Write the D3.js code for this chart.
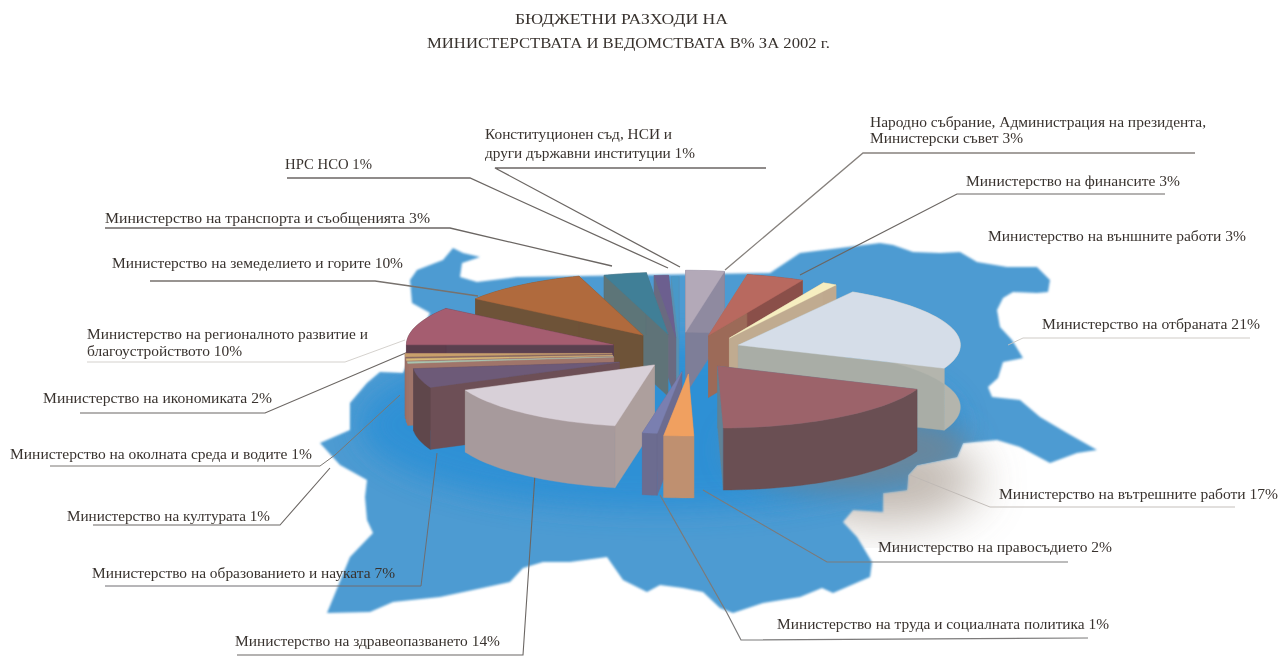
<!DOCTYPE html>
<html>
<head>
<meta charset="utf-8">
<script src="https://cdnjs.cloudflare.com/ajax/libs/d3/7.8.5/d3.min.js"></script>
<style>
  html, body { margin: 0; background: #fff; }
  svg { display: block; }
  text { font-family: "Liberation Serif", serif; fill: #38322e; }
</style>
</head>
<body>
<svg id="chart" width="1279" height="656"></svg>
<script>
// budget shares, clockwise from the top of the pie
const ministries = [
  "Народно събрание", "Финанси", "Външни работи", "Отбрана", "Вътрешни работи",
  "Правосъдие", "Труд", "Здравеопазване", "Образование", "Култура",
  "Околна среда", "Икономика", "Регионално развитие", "Земеделие", "Транспорт",
  "НРС", "Конституционен съд"
];
const shares = [3, 3, 3, 21, 17, 2, 1, 14, 7, 1, 1, 2, 10, 10, 3, 1, 1];

const titleLines = ["БЮДЖЕТНИ РАЗХОДИ НА", "МИНИСТЕРСТВАТА И ВЕДОМСТВАТА В% ЗА 2002 г."];

const labelTexts = [
  "Конституционен съд, НСИ и",
  "други държавни институции 1%",
  "НРС НСО 1%",
  "Министерство на транспорта и съобщенията  3%",
  "Министерство на земеделието и горите 10%",
  "Министерство на регионалното развитие и",
  "благоустройството 10%",
  "Министерство на икономиката 2%",
  "Министерство на околната среда и водите 1%",
  "Министерство на културата 1%",
  "Министерство на образованието и науката 7%",
  "Министерство на здравеопазването 14%",
  "Министерство на труда и социалната политика 1%",
  "Министерство на правосъдието 2%",
  "Министерство на вътрешните работи 17%",
  "Министерство на отбраната 21%",
  "Министерство на външните работи 3%",
  "Министерство на финансите 3%",
  "Народно събрание, Администрация на президента,",
  "Министерски съвет 3%"
];

// layout: [x, baseline, width] for each label above
const labelBoxes = [
  [485, 139, 187], [485, 158, 210], [285, 169, 87], [105, 223, 325], [112, 268, 291],
  [87, 339, 281], [87, 356, 155], [43, 403, 229], [10, 459, 302], [67, 521, 203],
  [92, 578, 303], [235, 646, 265], [777, 629, 332], [878, 552, 234], [999, 499, 279],
  [1042, 329, 218], [988, 241, 258], [966, 186, 214], [870, 127, 336], [870, 143, 153]
];

// layout: leader lines, [path, stroke, width]
const leaders = [
  [[[766, 168], [495, 168], [680, 267]], "#6b6663", 1.3],
  [[[287, 178], [470, 178], [668, 268]], "#6b6663", 1.3],
  [[[105, 228], [450, 228], [612, 266]], "#6b6663", 1.3],
  [[[150, 281], [375, 281], [410, 286], [478, 296]], "#77726e", 1.3],
  [[[87, 362], [345, 362], [405, 340]], "#c9c5c0", 0.8],
  [[[80, 413], [265, 413], [408, 352]], "#6b6663", 1.1],
  [[[50, 466], [320, 466], [335, 455], [400, 395]], "#7a7672", 1],
  [[[93, 525], [280, 525], [330, 468]], "#6b6663", 1.1],
  [[[105, 586], [421, 586], [437, 453]], "#6f6d70", 1],
  [[[237, 655], [523, 655], [535, 474]], "#6b6663", 1.1],
  [[[1088, 638], [741, 640], [727, 613], [660, 495]], "#7b7a7a", 1.2],
  [[[1068, 562], [827, 562], [703, 490]], "#7b7a7a", 1.1],
  [[[1235, 507], [990, 507], [910, 475]], "#bdb8b3", 0.9],
  [[[1250, 338], [1023, 338], [1008, 345]], "#c9c5c0", 0.9],
  [[[1218, 255], [975, 255]], "#d0ccc8", 0.9],
  [[[1165, 194], [957, 194], [800, 275]], "#6b6663", 1.2],
  [[[1195, 153], [863, 153], [725, 270]], "#86817d", 1.3]
];

// backdrop: outline of the country
const mapOutline = [
  [517, 277], [770, 273], [800, 253], [848, 247], [880, 243], [893, 245], [913, 252], [940, 253], [960, 252],
  [977, 262], [1007, 267], [1037, 267], [1050, 280], [1048, 292], [1037, 293], [1013, 292], [1003, 298],
  [997, 310], [1000, 327], [1012, 340], [1023, 358], [1003, 362], [998, 378], [988, 387], [992, 397],
  [1020, 400], [1040, 417], [1067, 433], [1097, 450], [1077, 453], [1050, 463], [1020, 447], [997, 440],
  [963, 443], [957, 457], [917, 465], [908, 475], [907, 490], [883, 493], [883, 512], [853, 510], [843, 522],
  [857, 537], [872, 562], [870, 577], [833, 593], [822, 588], [800, 597], [763, 603], [733, 613], [720, 608],
  [703, 592], [683, 588], [660, 585], [647, 592], [623, 580], [607, 557], [570, 562], [543, 562], [523, 568],
  [510, 582], [473, 590], [440, 597], [393, 602], [370, 612], [327, 613], [350, 557], [373, 533], [367, 520],
  [365, 497], [367, 480], [340, 465], [320, 443], [350, 430], [350, 403], [367, 383], [380, 372], [403, 373],
  [430, 313], [412, 303], [410, 280], [417, 270], [443, 260], [453, 248], [463, 253], [480, 257], [462, 263],
  [460, 277], [477, 282]
];

// style per slice, same order as shares
const topColors = ["#b3a9b8", "#b8695f", "#f6eec0", "#d5dde8", "#9c636b", "#f0a060", "#7a7fb0", "#d8d0d8",
  "#6d5a78", "#a9c4b0", "#d9bb78", "#c9a06c", "#a55d70", "#b06a3c", "#3f7f97", "#6c5f8f", "#4a98c8"];
const rimColors = ["#8f8aa0", "#8a4f4a", "#bfa98e", "#b4b5ad", "#6b4f52", "#bf9070", "#6c6c90", "#a79a9c",
  "#5f474c", "#a0756a", "#a0756a", "#a0756a", "#5a3c4c", "#6e5238", "#5d7478", "#6b6b80", "#5a90b0"];
const wallColors = ["#7e7e98", "#9c6a58", "#c0ab90", "#a9ada6", "#5f8296", "#bf9070", "#6c6c90", "#ad9f9d",
  "#6d5056", "#a0756a", "#a0756a", "#8a6a62", "#5a4050", "#6e5238", "#5f7378", "#6b6b80", "#5a90b0"];
// how far each slice is pulled out of the pie, and small hand corrections on top
const explode = [60, 52, 78, 62, 57, 67, 60, 60, 68, 68, 68, 68, 70, 63, 55, 45, 40];
const nudgeX = [0, 14, 14, 0, 0, 0, 0, 0, 0, 0, 0, 0, 0, 0, 0, 0, 0];
const nudgeY = [0, 0, 9, 0, 0, 0, 0, -5, 0, 0, 0, 0, 0, 0, 0, 0, 0];
const radii = [207, 207, 207, 222, 215, 207, 207, 207, 207, 207, 207, 207, 207, 207, 207, 207, 207];

const cx = 680, cy = 352, ry = 62, depth = 62, tilt = 0.33;
const rad = Math.PI / 180;

const svg = d3.select("#chart");
const defs = svg.append("defs");
[["soft", 0.55], ["edge", 1.1], ["wide", 14], ["wider", 24]].forEach(([id, s]) => {
  defs.append("filter").attr("id", id)
    .attr("x", "-30%").attr("y", "-30%").attr("width", "160%").attr("height", "160%")
    .append("feGaussianBlur").attr("stdDeviation", s);
});

// the illustration squeezes the angles around the near side, same for the top right
const warp = d3.scaleLinear()
  .domain([0, 10.8, 21.6, 32.4, 108, 169.2, 180, 230.4, 255.6, 270, 342, 352.8, 356.4, 360])
  .range([0, 10.8, 27, 31, 112, 178.5, 191, 246, 264, 270, 342, 354, 358, 360]);

const pie = d3.pie().sort(null)
  .startAngle(0).endAngle(2 * Math.PI)
  .value(d => d);

const outline = d3.line();

// soft shadow off the map, lower right
svg.append("ellipse")
  .attr("cx", 885).attr("cy", 480).attr("rx", 95).attr("ry", 42)
  .attr("fill", "#b5aba2").attr("opacity", 0.85).attr("filter", "url(#wider)");

defs.append("clipPath").attr("id", "mapClip")
  .append("path").attr("d", outline(mapOutline) + "Z");

svg.append("path")
  .attr("d", outline(mapOutline) + "Z")
  .attr("fill", "#4e9bd2")
  .attr("filter", "url(#edge)");

const mapShade = svg.append("g").attr("clip-path", "url(#mapClip)");
mapShade.append("ellipse")
  .attr("cx", 660).attr("cy", 425).attr("rx", 300).attr("ry", 85)
  .attr("fill", "#2a8fd6").attr("opacity", 0.85).attr("filter", "url(#wide)");
mapShade.append("ellipse")
  .attr("cx", 850).attr("cy", 450).attr("rx", 120).attr("ry", 42)
  .attr("fill", "#66879f").attr("filter", "url(#wide)");

// leaders sit under the pie
svg.append("g").selectAll("path")
  .data(leaders)
  .join("path")
  .attr("d", d => outline(d[0]))
  .attr("fill", "none")
  .attr("stroke", d => d[1])
  .attr("stroke-width", d => d[2])
  .attr("filter", "url(#soft)");

const slices = pie(shares).map((d, i) => {
  const a0 = warp(d.startAngle / rad) * rad;
  const a1 = warp(d.endAngle / rad) * rad;
  const mid = (d.startAngle + d.endAngle) / 2;
  const apex = [
    cx + nudgeX[i] + explode[i] * Math.sin(mid),
    cy + nudgeY[i] - explode[i] * Math.cos(mid) * tilt
  ];
  return { i, a0, a1, mid, apex, r: radii[i] };
});

function rimPoints(s) {
  const steps = Math.max(2, Math.ceil((s.a1 - s.a0) / (2 * rad)));
  return d3.range(steps + 1).map(k => {
    const a = s.a0 + (s.a1 - s.a0) * k / steps;
    return [s.apex[0] + s.r * Math.sin(a), s.apex[1] - ry * Math.cos(a)];
  });
}
const drop = p => [p[0], p[1] + depth];

// back to front on the warped angles, so nearer slices cover the ones behind them
const ordered = slices.slice().sort((a, b) => Math.cos((b.a0 + b.a1) / 2) - Math.cos((a.a0 + a.a1) / 2));

const sliceG = svg.append("g").attr("filter", "url(#soft)")
  .selectAll("g")
  .data(ordered)
  .join("g");

sliceG.each(function (s) {
  const g = d3.select(this);
  const rim = rimPoints(s);
  const first = rim[0], last = rim[rim.length - 1];
  // walls first, the one further back goes first
  const walls = [first, last]
    .sort((a, b) => a[1] - b[1])
    .map(p => [s.apex, p, drop(p), drop(s.apex)]);
  walls.forEach(w => {
    g.append("path").attr("d", outline(w) + "Z")
      .attr("fill", wallColors[s.i]).attr("stroke", wallColors[s.i]).attr("stroke-width", 0.4);
  });
  g.append("path").attr("d", outline(rim.concat(rim.map(drop).reverse())) + "Z")
    .attr("fill", rimColors[s.i]).attr("stroke", rimColors[s.i]).attr("stroke-width", 0.4);
  g.append("path").attr("d", outline([s.apex].concat(rim)) + "Z")
    .attr("fill", topColors[s.i]).attr("stroke", topColors[s.i]).attr("stroke-width", 0.4);
});

// labels
svg.append("g").attr("filter", "url(#soft)")
  .selectAll("text")
  .data(labelTexts)
  .join("text")
  .attr("x", (d, i) => labelBoxes[i][0])
  .attr("y", (d, i) => labelBoxes[i][1])
  .attr("textLength", (d, i) => labelBoxes[i][2])
  .attr("lengthAdjust", "spacingAndGlyphs")
  .attr("font-size", 14)
  .text(d => d);

svg.append("g").attr("filter", "url(#soft)")
  .selectAll("text")
  .data(titleLines)
  .join("text")
  .attr("x", (d, i) => i ? 427 : 515)
  .attr("y", (d, i) => i ? 48 : 24)
  .attr("textLength", (d, i) => i ? 403 : 213)
  .attr("lengthAdjust", "spacingAndGlyphs")
  .attr("font-size", 14)
  .text(d => d);
</script>
</body>
</html>
